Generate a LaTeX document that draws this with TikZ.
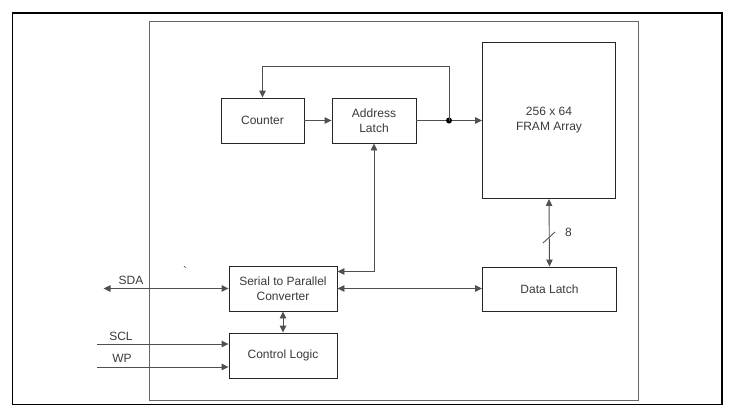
\documentclass[tikz,border=0pt]{standalone}
\usepackage{fontspec}
\setmainfont{Liberation Sans}
\usetikzlibrary{arrows.meta}
\definecolor{ln}{HTML}{505050}
\definecolor{tx}{HTML}{3a3a3a}
\begin{document}
\begin{tikzpicture}[x=1pt,y=-1pt,
  blk/.style={draw=black!85, line width=0.9pt, fill=white, inner sep=0pt, align=center, font=\fontsize{12}{15}\selectfont, text=tx},
  conn/.style={draw=ln, line width=0.9pt, -{Triangle[length=7pt,width=6.5pt]}},
  bconn/.style={draw=ln, line width=0.9pt, {Triangle[length=7pt,width=6.5pt]}-{Triangle[length=7pt,width=6.5pt]}},
  lbl/.style={font=\fontsize{12}{15}\selectfont, text=tx, inner sep=0pt}]
\useasboundingbox (0,0) rectangle (732,410);
% outer frame
\draw[black, line width=1.6pt] (12.5,13) rectangle (722,404.5);
% inner frame
\draw[black!60, line width=1pt] (149,21) rectangle (638,400.5);
% blocks
\node[blk, minimum width=83pt, minimum height=45pt] (cnt) at (262.5,120.5) {Counter};
\node[blk, minimum width=84pt, minimum height=45pt] (al) at (374,120.5) {Address\\Latch};
\node[blk, minimum width=133pt, minimum height=156pt] (fram) at (549,120.5) {256 x 64\\FRAM Array};
\node[blk, minimum width=108pt, minimum height=45pt] (spc) at (283,288.5) {Serial to Parallel\\Converter};
\node[blk, minimum width=108pt, minimum height=45pt] (cl) at (283,355.5) {Control Logic};
\node[blk, minimum width=134pt, minimum height=44pt] (dl) at (549.5,289) {Data Latch};
% connectors
\coordinate (dot) at (449,120.5);
\draw[conn] (cnt.east) -- (al.west);
\draw[conn] (al.east) -- (fram.west);
\fill[black] (dot) circle (3pt);
\draw[conn] (dot) -- (449,66) -| (cnt.north);
\draw[bconn] (spc.east |- 0,271.5) -| (al.south);
\draw[bconn] (spc.east |- 0,288.5) -- (dl.west |- 0,288.5);
\draw[bconn] (fram.south) -- (dl.north);
\draw[bconn] (spc.south) -- (cl.north);
\draw[ln, line width=0.9pt] (543,243) -- (555,232);
\node[lbl, anchor=west] (n8) at (565,232) {8};
\draw[bconn] (spc.west) -- ++(-125,0) coordinate (sdaend);
\node[lbl] (sda) at (131,280.5) {SDA};
\coordinate (sclst) at (97,344);
\coordinate (wpst) at (97,367);
\draw[conn] (sclst) -- (cl.west |- sclst);
\draw[conn] (wpst) -- (cl.west |- wpst);
\node[lbl] (scl) at (121,336) {SCL};
\node[lbl] (wp) at (122,358.5) {WP};
\node[lbl] (tick) at (185,271) {\textasciigrave};
\end{tikzpicture}
\end{document}
